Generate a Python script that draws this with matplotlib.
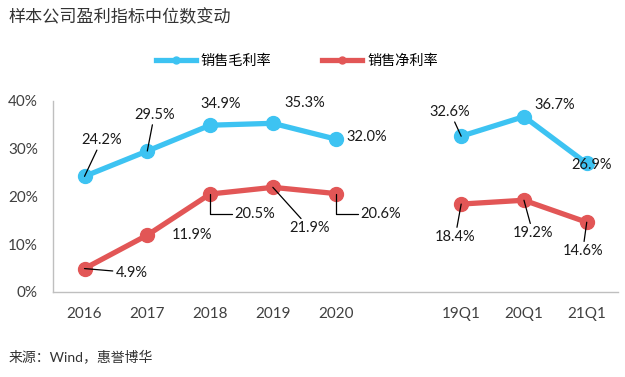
import numpy as np
import matplotlib.pyplot as plt
from matplotlib.ticker import FuncFormatter

plt.rcParams['font.family'] = ['Lato', 'Noto Sans CJK SC', 'DejaVu Sans']

cats = ['2016', '2017', '2018', '2019', '2020', '', '19Q1', '20Q1', '21Q1']
gross = [24.2, 29.5, 34.9, 35.3, 32.0, np.nan, 32.6, 36.7, 26.9]
net = [4.9, 11.9, 20.5, 21.9, 20.6, np.nan, 18.4, 19.2, 14.6]

blue = '#3DC3F2'
red = '#E25656'

# label offsets in pixels, leader style (None / 'line' / 'L')
gross_lab = [(17, 36, 'line'), (7, 36, 'line'), (11, 21, None), (32, 20, None),
             (31, 2, None), None, (-11, 24, 'line'), (31, 12, None), (5, -2, None)]
net_lab = [(47, -4, 'line'), (45, 0, None), (45, -20, 'L'), (37, -41, 'line'),
           (45, -20, 'L'), None, (-6, -33, 'line'), (9, -33, 'line'), (-4, -29, 'line')]

fig = plt.figure(figsize=(6.25, 3.77), dpi=100)
ax = fig.add_axes([0.085, 0.2255, 0.904, 0.507])

x = np.arange(len(cats))
ax.plot(x, np.array(gross) / 100, color=blue, lw=3.8, marker='o', ms=10,
        label='销售毛利率', zorder=3)
ax.plot(x, np.array(net) / 100, color=red, lw=3.8, marker='o', ms=10,
        label='销售净利率', zorder=3)

def label(vals, labs):
    for i, v in enumerate(vals):
        if labs[i] is None:
            continue
        dx, dy, style = labs[i]
        kw = dict(xy=(i, v / 100), xytext=(dx, dy), textcoords='offset pixels',
                  ha='center', va='center', fontsize=10.5, color='#1a1a1a', zorder=5)
        if style == 'line':
            kw['arrowprops'] = dict(arrowstyle='-', color='black', lw=0.9,
                                    shrinkA=0, shrinkB=0)
        elif style == 'L':
            kw['arrowprops'] = dict(arrowstyle='-', color='black', lw=0.9,
                                    shrinkA=0, shrinkB=0,
                                    connectionstyle='angle,angleA=0,angleB=90,rad=0')
        ax.annotate(f'{v:.1f}%', **kw)

label(gross, gross_lab)
label(net, net_lab)

ax.set_xlim(-0.5, len(cats) - 0.5)
ax.set_ylim(0, 0.4)
ax.set_xticks(x)
ax.set_xticklabels(cats)
ax.set_yticks([0, 0.1, 0.2, 0.3, 0.4])
ax.yaxis.set_major_formatter(FuncFormatter(lambda v, p: f'{v * 100:.0f}%'))
ax.tick_params(length=0, labelsize=11, colors='#404040', pad=11)
for s in ['top', 'right']:
    ax.spines[s].set_visible(False)
for s in ['left', 'bottom']:
    ax.spines[s].set_color('#BFBFBF')
    ax.spines[s].set_linewidth(1)

fig.legend(loc='center', bbox_to_anchor=(0.475, 0.84), ncol=2, frameon=False,
           fontsize=10.2, handlelength=2.8, columnspacing=3.6, handletextpad=0.35,
           markerscale=0.5)

fig.text(0.013, 0.955, '样本公司盈利指标中位数变动', fontsize=12.3, color='#333333',
         va='center', ha='left')
fig.text(0.013, 0.055, '来源：Wind，惠誉博华', fontsize=10, color='#333333',
         va='center', ha='left')

fig.savefig('out.png', dpi=100)
